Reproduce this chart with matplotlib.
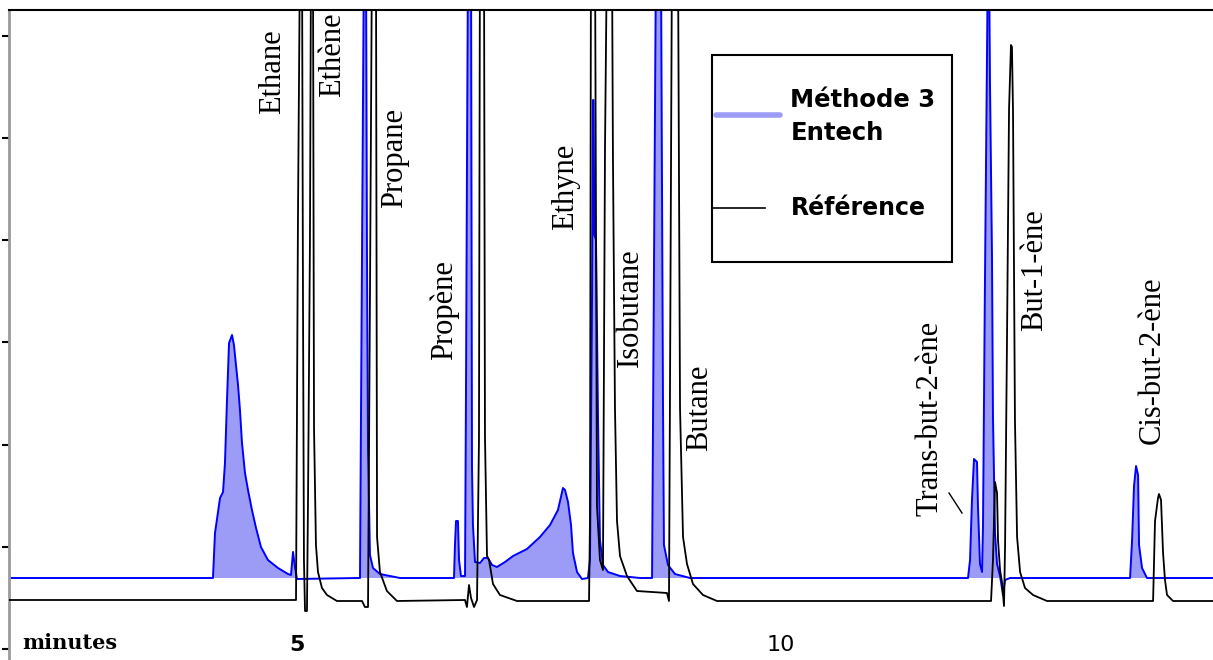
import numpy as np
import matplotlib
matplotlib.use('Agg')
import matplotlib.pyplot as plt
from matplotlib.patches import Rectangle

# Méthode 3 Entech trace (temps en minutes, signal en unités arbitraires)
entech_t = [2.025, 4.132, 4.153, 4.205, 4.236, 4.256, 4.277, 4.298, 4.329, 4.349,
            4.370, 4.391, 4.411, 4.432, 4.463, 4.494, 4.535, 4.577, 4.628, 4.700,
            4.804, 4.907, 4.938, 4.959, 4.979, 5.000, 5.630, 5.651, 5.661, 5.672,
            5.692, 5.713, 5.723, 5.734, 5.754, 5.785, 5.857, 6.064, 6.622, 6.632,
            6.643, 6.663, 6.674, 6.694, 6.736, 6.746, 6.756, 6.767, 6.798, 6.808,
            6.818, 6.839, 6.891, 6.932, 6.973, 7.015, 7.066, 7.149, 7.232, 7.376,
            7.510, 7.614, 7.696, 7.748, 7.769, 7.800, 7.831, 7.851, 7.893, 7.944,
            8.006, 8.027, 8.048, 8.058, 8.064, 8.072, 8.089, 8.110, 8.130, 8.161,
            8.213, 8.337,
            8.544, 8.668, 8.688, 8.709, 8.760, 8.781, 8.791, 8.833, 8.905, 9.060,
            11.932, 11.953, 11.973, 11.994, 12.025, 12.035, 12.056, 12.077, 12.087, 12.107,
            12.128, 12.138, 12.149, 12.159, 12.180, 12.190, 12.211, 12.232, 12.263, 12.294,
            12.315, 12.366, 13.606, 13.627, 13.647, 13.668, 13.689, 13.699, 13.730, 13.781,
            14.463]
entech_s = [71, 71, 116, 151, 157, 186, 249, 306, 314, 304,
            284, 264, 239, 206, 176, 159, 139, 121, 102, 89,
            81, 75, 74, 97, 82, 70, 71, 71, 229, 399,
            699, 699, 399, 199, 94, 81, 75, 71, 71, 104,
            128, 128, 89, 73, 73, 259, 479, 699, 699, 182,
            124, 87, 86, 91, 91, 84, 82, 87, 93, 100,
            112, 124, 139, 161, 159, 147, 124, 96, 77, 70,
            71, 89, 349, 549, 549, 414, 409, 229, 109, 84,
            77, 73,
            71, 71, 381, 699, 699, 249, 104, 84, 75, 71,
            71, 89, 149, 190, 187, 143, 85, 77, 124, 365,
            591, 699, 699, 567, 392, 233, 116, 85, 73, 54,
            69, 71, 71, 109, 163, 183, 174, 104, 81, 71,
            71]
entech_base = 71

# Référence trace
ref_t = [2.025, 4.990, 5.010, 5.031, 5.052, 5.062, 5.072, 5.083, 5.103, 5.114,
         5.134, 5.145, 5.165, 5.176, 5.196, 5.217, 5.258, 5.310, 5.413, 5.672,
         5.702, 5.734, 5.754, 5.775, 5.816, 5.827, 5.857, 5.929, 6.033, 6.736,
         6.756, 6.777, 6.798, 6.829, 6.860, 6.880, 6.890, 6.932, 6.942, 6.963,
         6.984, 7.025, 7.097, 7.273, 8.017, 8.027, 8.037, 8.079, 8.099, 8.130,
         8.161, 8.182, 8.202, 8.254, 8.264, 8.285, 8.306, 8.337, 8.409, 8.512,
         8.822, 8.843, 8.853, 8.874, 8.936, 8.957, 8.988, 9.029, 9.091, 9.194,
         9.339, 12.170, 12.190, 12.211, 12.232, 12.242, 12.263, 12.283, 12.304, 12.315,
         12.335, 12.356, 12.376, 12.386, 12.397, 12.417, 12.439, 12.470, 12.521, 12.604,
         12.748, 13.844, 13.864, 13.895, 13.905, 13.926, 13.947, 13.967, 13.988, 14.050,
         14.463]
ref_s = [49, 49, 429, 699, 699, 349, 89, 38, 38, 149,
         408, 699, 699, 221, 104, 77, 61, 54, 48, 48,
         42, 42, 353, 699, 699, 112, 77, 58, 48, 49,
         42, 64, 51, 42, 49, 209, 699, 699, 213, 93,
         89, 65, 54, 48, 48, 129, 699, 699, 143, 89,
         79, 501, 699, 699, 493, 241, 128, 93, 73, 58,
         56, 48, 249, 699, 699, 241, 112, 85, 65, 54,
         48, 48, 89, 167, 156, 109, 79, 67, 43, 104,
         311, 540, 604, 602, 538, 229, 112, 77, 61, 54,
         48, 48, 128, 151, 155, 149, 96, 69, 54, 48,
         48]

# Noms des composés et position des étiquettes (minutes, signal)
compounds = ['Ethane', 'Ethène', 'Propane', 'Propène', 'Ethyne', 'Isobutane',
             'Butane', 'Trans-but-2-ène', 'But-1-ène', 'Cis-but-2-ène']
label_t = [4.752, 5.372, 6.013, 6.519, 7.779, 8.440, 9.164, 11.540, 12.624, 13.833]
label_s = [577, 594, 491, 339, 462, 341, 241, 231, 379, 289]

xtick_pos = [5, 10]
xtick_lab = ['5', '10']

blue = '#0000ff'
light = '#9c9cf6'

fig = plt.figure(figsize=(12.13, 6.6), dpi=100)
ax = fig.add_axes([9 / 1213, 0, 1 - 9 / 1213, 650 / 660])

t_e = np.array(entech_t)
s_e = np.array(entech_s)
ax.fill_between(t_e, s_e, entech_base, where=s_e >= entech_base, interpolate=True,
                color=light, lw=0, zorder=1)
ax.plot(t_e, s_e, color=blue, lw=1.4, zorder=2)
ax.plot(ref_t, ref_s, color='black', lw=1.3, zorder=3)

for name, tx, sy in zip(compounds, label_t, label_s):
    ax.text(tx, sy, name, rotation=90, ha='center', va='center',
            family='Liberation Serif', fontsize=22, zorder=5)

# petit trait vers Trans-but-2-ène
ax.plot([11.736, 11.870], [156, 136], color='black', lw=1, zorder=5)

ax.set_xlim(2.025, 14.463)
ax.set_ylim(-11, 639)
ax.set_yticks(np.arange(7) * 102.2)
ax.set_yticklabels([])
ax.tick_params(axis='y', direction='out', length=5, width=1.5, color='black')
ax.set_xticks([])
for side in ['right', 'bottom']:
    ax.spines[side].set_visible(False)
ax.spines['left'].set_color('#9a9a9a')
ax.spines['left'].set_linewidth(2)
ax.spines['top'].set_linewidth(1.5)

# axe des temps
xt = ax.get_xaxis_transform()
ax.text(2.159, 0.026, 'minutes', transform=xt, ha='left', va='center',
        family='DejaVu Serif', fontweight='bold', fontsize=15)
for pos, lab, w in zip(xtick_pos, xtick_lab, ['bold', 'normal']):
    ax.text(pos, 0.023, lab, transform=xt, ha='center', va='center',
            fontweight=w, fontsize=16)

# légende
ax.add_patch(Rectangle((0.584, 0.612), 0.199, 0.319, transform=ax.transAxes,
                       fill=True, facecolor='white', edgecolor='black', lw=1.5, zorder=6))
ax.plot([0.587, 0.640], [0.838, 0.838], transform=ax.transAxes, color=light,
        lw=4, solid_capstyle='round', zorder=7)
ax.plot([0.585, 0.628], [0.695, 0.695], transform=ax.transAxes, color='black',
        lw=1.2, zorder=7)
ax.text(0.649, 0.836, 'Méthode 3\nEntech', transform=ax.transAxes, ha='left',
        va='center', fontweight='bold', fontsize=17.5, linespacing=1.5, zorder=7)
ax.text(0.649, 0.695, 'Référence', transform=ax.transAxes, ha='left',
        va='center', fontweight='bold', fontsize=17, zorder=7)

fig.savefig('out.png', dpi=100)
